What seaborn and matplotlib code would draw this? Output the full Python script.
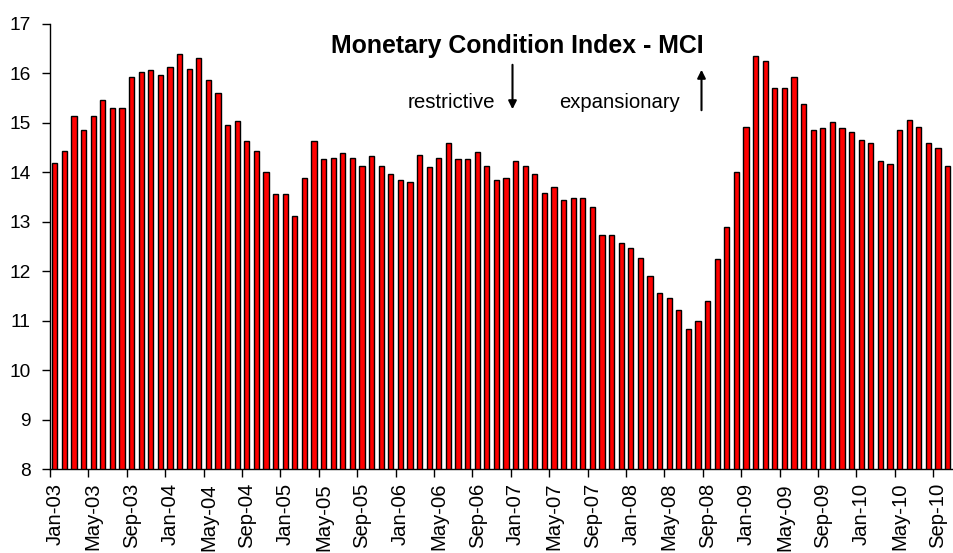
import seaborn as sns, numpy as np, pandas as pd, matplotlib.pyplot as plt

# monthly MCI values, Jan-03 .. Oct-10
mci_2003 = [14.19, 14.44, 15.14, 14.85, 15.14, 15.47, 15.31, 15.31, 15.93, 16.03, 16.06, 15.97]
mci_2004 = [16.13, 16.39, 16.09, 16.32, 15.87, 15.60, 14.95, 15.04, 14.63, 14.43, 14.00, 13.57]
mci_2005 = [13.57, 13.11, 13.88, 14.63, 14.26, 14.29, 14.39, 14.29, 14.13, 14.33, 14.13, 13.97]
mci_2006 = [13.84, 13.80, 14.35, 14.10, 14.29, 14.59, 14.26, 14.26, 14.42, 14.13, 13.84, 13.88]
mci_2007 = [14.23, 14.13, 13.97, 13.58, 13.71, 13.45, 13.48, 13.48, 13.29, 12.73, 12.73, 12.57]
mci_2008 = [12.47, 12.27, 11.90, 11.55, 11.45, 11.22, 10.83, 10.99, 11.39, 12.24, 12.89, 14.00]
mci_2009 = [14.92, 16.36, 16.25, 15.70, 15.70, 15.93, 15.38, 14.85, 14.89, 15.02, 14.89, 14.82]
mci_2010 = [14.66, 14.59, 14.23, 14.17, 14.85, 15.05, 14.92, 14.59, 14.50, 14.13]

mci = mci_2003 + mci_2004 + mci_2005 + mci_2006 + mci_2007 + mci_2008 + mci_2009 + mci_2010
months = pd.date_range('2003-01-01', periods=len(mci), freq='MS').strftime('%b-%y').tolist()
y_ticks = [8, 9, 10, 11, 12, 13, 14, 15, 16, 17]

df = pd.DataFrame({'month': months, 'mci': mci})

sns.set_style('white')
plt.rcParams['font.family'] = ['Liberation Sans', 'DejaVu Sans']
plt.rcParams['text.color'] = 'black'
plt.rcParams['xtick.color'] = 'black'
plt.rcParams['ytick.color'] = 'black'

fig = plt.figure(figsize=(9.54, 5.53), dpi=100)
ax = fig.add_axes([50 / 954, 1 - 469 / 553, 902.4 / 954, 445 / 553])

sns.barplot(data=df, x='month', y='mci', color='#ff0000', saturation=1,
            width=0.55, edgecolor='black', linewidth=1, ax=ax)

ax.set_ylim(8, 17)
ax.set_xlim(-0.5, len(mci) - 0.5)
ax.set_yticks(y_ticks)
ax.set_yticklabels([str(t) for t in y_ticks], fontsize=13.8)

# labels every 4 months, tick marks between categories
lab_pos = list(range(0, len(mci), 4))
ax.set_xticks(lab_pos)
ax.set_xticklabels([months[i] for i in lab_pos], rotation=90, fontsize=14.6)
ax.set_xticks([p - 0.5 for p in lab_pos], minor=True)
ax.tick_params(axis='x', which='major', length=0, pad=10)
ax.tick_params(axis='x', which='minor', length=6, width=1, color='black', direction='out', bottom=True)
ax.tick_params(axis='y', length=6, width=1, color='black', direction='out', left=True, pad=8)
ax.set_xlabel('')
ax.set_ylabel('')

for s in ['top', 'right']:
    ax.spines[s].set_visible(False)
for s in ['left', 'bottom']:
    ax.spines[s].set_color('black')
    ax.spines[s].set_linewidth(1)

# title and annotations
fig.text(517 / 954, 1 - 53 / 553, 'Monetary Condition Index - MCI', ha='center', va='baseline',
         fontsize=17.9, fontweight='bold')
fig.text(408 / 954, 1 - 108.5 / 553, 'restrictive', ha='left', va='baseline', fontsize=14.8)
fig.text(559 / 954, 1 - 108.5 / 553, 'expansionary', ha='left', va='baseline', fontsize=14.6)
ax.annotate('', xy=(512.5, 553 - 112), xytext=(512.5, 553 - 62), xycoords='figure pixels',
            textcoords='figure pixels',
            arrowprops=dict(arrowstyle='-|>', color='black', lw=1.5, mutation_scale=12))
ax.annotate('', xy=(701.5, 553 - 67), xytext=(701.5, 553 - 113), xycoords='figure pixels',
            textcoords='figure pixels',
            arrowprops=dict(arrowstyle='-|>', color='black', lw=1.5, mutation_scale=12))

fig.savefig('out.png', dpi=100)
